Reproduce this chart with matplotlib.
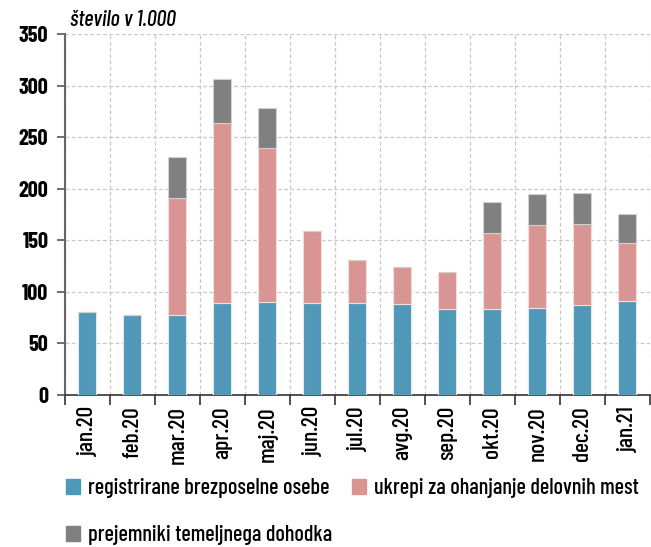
import matplotlib
matplotlib.use("Agg")
import matplotlib.pyplot as plt
import numpy as np
from matplotlib.patches import Patch

plt.rcParams['font.family'] = ['Barlow Condensed', 'DejaVu Sans']

categories = ["jan.20", "feb.20", "mar.20", "apr.20", "maj.20", "jun.20", "jul.20",
              "avg.20", "sep.20", "okt.20", "nov.20", "dec.20", "jan.21"]
registrirane = [80, 78, 78, 89, 90, 89, 89, 88, 83, 83, 84, 87, 91]
ukrepi = [0, 0, 113, 175, 149, 70, 42, 36, 36, 74.5, 80.5, 78.5, 56]
prejemniki = [0, 0, 40, 42, 39, 0, 0, 0, 0, 30, 30.5, 30, 28]
yticks = [0, 50, 100, 150, 200, 250, 300, 350]
labels = ["registrirane brezposelne osebe", "ukrepi za ohanjanje delovnih mest",
          "prejemniki temeljnega dohodka"]
colors = ["#4F98B8", "#D99594", "#808080"]

fig = plt.figure(figsize=(6.51, 5.47), dpi=100)
ax = fig.add_axes([0.0998, 0.2779, 0.8986, 0.66])

x = np.arange(len(categories))
b1 = np.array(registrirane, dtype=float)
b2 = np.array(ukrepi, dtype=float)
b3 = np.array(prejemniki, dtype=float)
w = 0.4
ax.bar(x, b1, w, color=colors[0], edgecolor="#dfe9ee", linewidth=0.8, zorder=3)
ax.bar(x, b2, w, bottom=b1, color=colors[1], edgecolor="#f3dcdc", linewidth=0.8, zorder=3)
ax.bar(x, b3, w, bottom=b1 + b2, color=colors[2], edgecolor="#d0d0d0", linewidth=0.8, zorder=3)

ax.set_xlim(-0.5, len(categories) - 0.5)
ax.set_ylim(0, 350)
ax.set_yticks(yticks)
ax.set_yticklabels([str(v) for v in yticks], fontsize=16, fontweight="bold")
ax.set_xticks(np.arange(len(categories) + 1) - 0.5)
ax.set_xticklabels([])
ax.set_xticks(x, minor=True)
ax.set_xticklabels(categories, minor=True, rotation=90, fontsize=17, fontweight="medium")
ax.tick_params(axis="x", which="minor", length=0, pad=8)
ax.tick_params(axis="x", which="major", length=7, width=1.2, color="#333333", direction="out")
ax.tick_params(axis="y", length=6, width=1.2, color="#555555", pad=6)

ax.grid(True, which="major", linestyle=(0, (3, 2)), color="#c8c8c8", linewidth=0.9, zorder=0)
for s in ["top", "right"]:
    ax.spines[s].set_visible(False)
ax.spines["left"].set_color("#666666")
ax.spines["left"].set_linewidth(1.5)
ax.spines["bottom"].set_color("#333333")
ax.spines["bottom"].set_linewidth(1.2)

fig.text(0.108, 0.945, "število v 1.000", fontsize=16, style="italic", fontweight="medium",
         ha="left", va="bottom")

common = dict(frameon=False, prop={'size': 16, 'weight': 'medium'},
              handlelength=0.65, handleheight=0.65, handletextpad=0.35,
              labelspacing=1.22, borderpad=0, borderaxespad=0)
leg1 = fig.legend([Patch(color=colors[0]), Patch(color=colors[2])], [labels[0], labels[2]],
                  loc="upper left", bbox_to_anchor=(66 / 651, 1 - 478 / 547), **common)
leg2 = fig.legend([Patch(color=colors[1])], [labels[1]],
                  loc="upper left", bbox_to_anchor=(352 / 651, 1 - 478 / 547), **common)

fig.savefig("out.png", dpi=100)
